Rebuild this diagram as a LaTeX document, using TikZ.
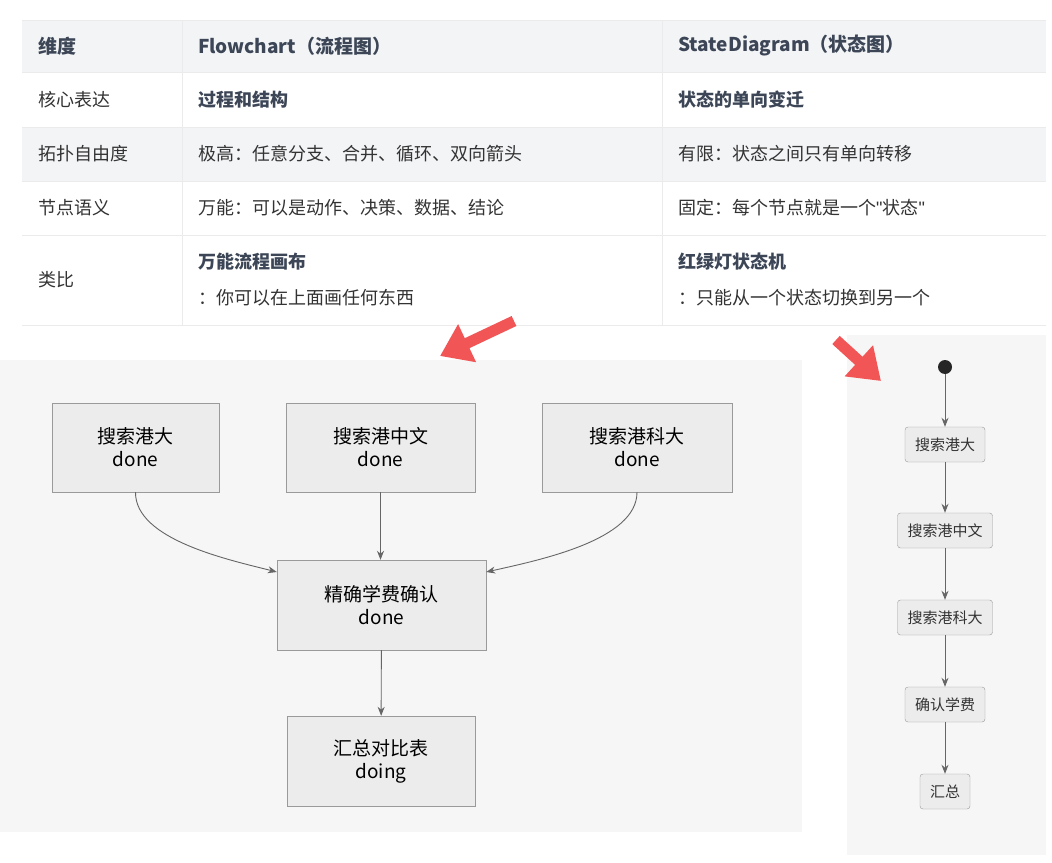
\documentclass[tikz,border=0pt]{standalone}
\usepackage{fontspec}
\setmainfont{Noto Sans CJK SC}
\newfontfamily\quotefont[Ligatures=ResetAll]{Liberation Sans}
\newcommand{\dq}{{\quotefont\symbol{34}}}
\usetikzlibrary{arrows.meta,positioning}
\definecolor{txt}{HTML}{333333}
\definecolor{hdr}{HTML}{3C4656}
\definecolor{band}{HTML}{F3F4F6}
\definecolor{panel}{HTML}{F6F6F6}
\definecolor{boxfill}{HTML}{ECECEC}
\definecolor{boxline}{HTML}{9A9A9A}
\definecolor{hint}{HTML}{F25555}
\tikzset{
	cell/.style={anchor=west,text=txt,font=\fontsize{18}{22}\selectfont,inner sep=0pt},
	head/.style={cell,text=hdr,font=\fontsize{19}{23}\selectfont\bfseries},
	flow/.style={draw=boxline,fill=boxfill,text=black,align=center,font=\fontsize{19}{23}\selectfont,inner sep=0pt},
	state/.style={draw=boxline,fill=boxfill,rounded corners=3pt,text=txt,font=\fontsize{15}{18}\selectfont,minimum height=35pt,inner xsep=10pt,inner ysep=0pt},
	link/.style={draw=black!60,line width=0.9pt,-{Stealth[length=9pt,width=7pt]}},
	bigarrow/.style={hint,line width=11pt,-{Triangle[length=30pt,width=40pt]}}
}
\begin{document}
\begin{tikzpicture}[x=1pt,y=-1pt]
	\useasboundingbox (0,0) rectangle (1052,862);
	\fill[white] (0,0) rectangle (1052,862);

	% table
	\fill[band] (22,20) rectangle (1046,72);
	\fill[band] (22,127) rectangle (1046,181);
	\foreach \y in {20,72,127,181,235,325} {
		\draw[black!8,line width=1pt] (22,\y) -- (1046,\y);
	}
	\foreach \x in {182,662} {
		\draw[black!8,line width=1pt] (\x,20) -- (\x,325);
	}
	\node[head] (h1) at (38,46) {维度};
	\node[head] (h2) at (198,46) {Flowchart（流程图）};
	\node[head] (h3) at (678,46) {StateDiagram（状态图）};
	\node[cell] (r1) at (38,100) {核心表达};
	\node[head,font=\fontsize{18}{22}\selectfont\bfseries] (r1a) at (198,100) {过程和结构};
	\node[head,font=\fontsize{18}{22}\selectfont\bfseries] (r1b) at (678,100) {状态的单向变迁};
	\node[cell] (r2) at (38,154) {拓扑自由度};
	\node[cell] (r2a) at (198,154) {极高：任意分支、合并、循环、双向箭头};
	\node[cell] (r2b) at (678,154) {有限：状态之间只有单向转移};
	\node[cell] (r3) at (38,208) {节点语义};
	\node[cell] (r3a) at (198,208) {万能：可以是动作、决策、数据、结论};
	\node[cell] (r3b) at (678,208) {固定：每个节点就是一个\dq 状态\dq};
	\node[cell] (r4) at (38,280) {类比};
	\node[head,font=\fontsize{18}{22}\selectfont\bfseries] (r4a) at (198,262) {万能流程画布};
	\node[cell] (r4c) at (198,298) {：你可以在上面画任何东西};
	\node[head,font=\fontsize{18}{22}\selectfont\bfseries] (r4b) at (678,262) {红绿灯状态机};
	\node[cell] (r4d) at (678,298) {：只能从一个状态切换到另一个};

	% flowchart
	\fill[panel] (0,360) rectangle (802,832);
	\node[flow,minimum width=167pt,minimum height=89pt] (hku) at (135.5,447.5) {搜索港大\\done};
	\node[flow,minimum width=189pt,minimum height=89pt] (cuhk) at (380.5,447.5) {搜索港中文\\done};
	\node[flow,minimum width=190pt,minimum height=89pt] (hkust) at (637,447.5) {搜索港科大\\done};
	\node[flow,minimum width=209pt,minimum height=90pt] (fee) at (381.5,605) {精确学费确认\\done};
	\node[flow,minimum width=188pt,minimum height=90pt] (sum) at (381,761) {汇总对比表\\doing};
	\draw[link] (hku.south) .. controls (135,540) and (230,560) .. (fee.west |- 0,572);
	\draw[link] (cuhk.south) -- (cuhk.south |- fee.north);
	\draw[link] (hkust.south) .. controls (637,540) and (540,560) .. (fee.east |- 0,572);
	\draw[link] (fee) -- (sum);

	% state diagram
	\fill[panel] (847,335) rectangle (1046,855);
	\node[circle,fill=black!85,minimum size=14pt,inner sep=0pt] (start) at (945,367) {};
	\node[state] (s1) at (945,444.5) {搜索港大};
	\node[state] (s2) at (945,530.5) {搜索港中文};
	\node[state] (s3) at (945,617.5) {搜索港科大};
	\node[state] (s4) at (945,704.5) {确认学费};
	\node[state] (s5) at (945,791.5) {汇总};
	\draw[link] (start) -- (s1);
	\draw[link] (s1) -- (s2);
	\draw[link] (s2) -- (s3);
	\draw[link] (s3) -- (s4);
	\draw[link] (s4) -- (s5);

	% hints
	\coordinate (p1) at (514,321);
	\coordinate (q1) at (440,356);
	\coordinate (p2) at (836,340);
	\coordinate (q2) at (881,381);
	\draw[bigarrow] (p1) -- (q1);
	\draw[bigarrow] (p2) -- (q2);
\end{tikzpicture}
\end{document}
